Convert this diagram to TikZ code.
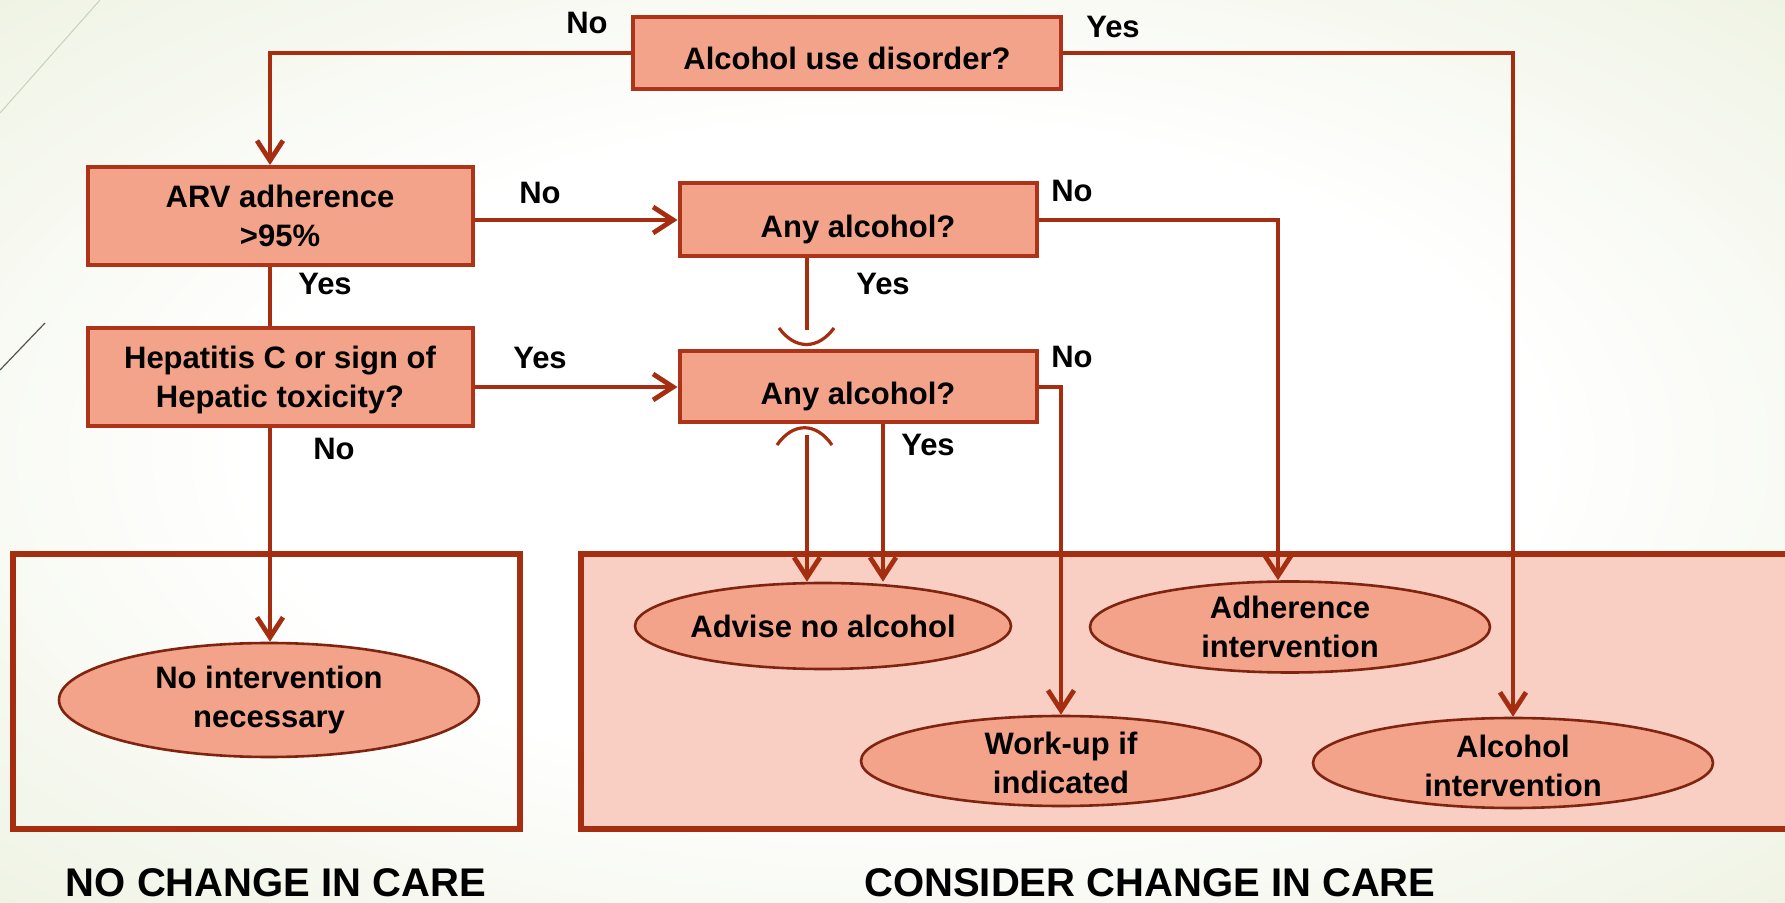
\documentclass[tikz,border=0pt]{standalone}
\usepackage{fontspec}
\setmainfont{Liberation Sans}
\usetikzlibrary{arrows.meta, shapes.geometric}
\definecolor{linered}{HTML}{A52D10}
\definecolor{boxfill}{HTML}{F4A38B}
\definecolor{boxedge}{HTML}{AD3418}
\definecolor{ovaledge}{HTML}{7F2410}
\definecolor{panelfill}{HTML}{F9CEC3}
\definecolor{bgedge}{HTML}{E2E9CD}
\definecolor{bglight}{HTML}{C9D0BB}
\definecolor{bgdark}{HTML}{55554A}
\pgfdeclareradialshading{slidebg}{\pgfpoint{0bp}{0bp}}{color(0bp)=(white); color(18bp)=(white); color(50bp)=(bgedge); color(72bp)=(bgedge)}
\tikzset{qbox/.style = {draw = boxedge, line width = 2pt, fill = boxfill, inner sep = 0, align = center, font = \bfseries\fontsize{15.5}{19.5}\selectfont},
  outcome/.style = {ellipse, draw = ovaledge, line width = 1.3pt, fill = boxfill, inner xsep = 0, inner ysep = -3pt, align = center, font = \bfseries\fontsize{15.5}{19.5}\selectfont},
  conn/.style = {draw = linered, line width = 2.4pt},
  hop/.style = {draw = linered, line width = 1.6pt},
  panel/.style = {draw = linered, line width = 2.8pt},
  lbl/.style = {font = \bfseries\fontsize{15.5}{19.5}\selectfont},
  title/.style = {font = \bfseries\fontsize{20}{24}\selectfont}}

\begin{document}
\begin{tikzpicture}[x = 0.5pt, y = -0.5pt, > = {Straight Barb[length = 10pt, width = 13pt]}]
    \useasboundingbox (0, 0) rectangle (1785, 903);
    \clip (0, 0) rectangle (1785, 903);
    \shade [shading = slidebg] (0, 0) rectangle (1785, 903);
    \draw [bglight, line width = 0.5pt] (0, 113) -- (100, 0);
    \draw [bgdark, line width = 0.6pt] (0, 370) -- (45, 323);

    \draw [panel] (13, 554) rectangle (520, 829);
    \draw [panel, fill = panelfill] (581, 554) rectangle (1800, 829);

    \node [qbox, minimum width = 214pt, minimum height = 36pt, text height = 17pt, text depth = 0pt] (audq) at (847, 53) {Alcohol use disorder?};
    \node [qbox, minimum width = 192.5pt, minimum height = 49pt] (arv) at (280, 216) {ARV adherence\\>95\%};
    \node [qbox, minimum width = 192.5pt, minimum height = 49pt, text depth = 0pt] (hep) at (280, 377) {Hepatitis C or sign of\\Hepatic toxicity?};
    \node [qbox, minimum width = 178.5pt, minimum height = 36.5pt, text height = 18pt, text depth = 0pt] (anyA) at (858, 220) {Any alcohol?};
    \node [qbox, minimum width = 178.5pt, minimum height = 35.5pt, text height = 18pt, text depth = 0pt] (anyB) at (858, 387) {Any alcohol?};

    \node [outcome, minimum width = 210pt, minimum height = 57pt] (noint) at (269, 700) {No intervention\\necessary};
    \node [outcome, minimum width = 188pt, minimum height = 43pt] (advise) at (823, 626) {Advise no alcohol};
    \node [outcome, minimum width = 200pt, minimum height = 45.5pt] (adher) at (1290, 627) {Adherence\\intervention};
    \node [outcome, minimum width = 200pt, minimum height = 45pt, text height = 32pt, text depth = 0pt] (workup) at (1061, 761) {Work-up if\\indicated};
    \node [outcome, minimum width = 200pt, minimum height = 45pt, text height = 33.6pt, text depth = 0pt] (alcint) at (1513, 763) {Alcohol\\intervention};

    \coordinate (hopin) at (807, 330);
    \coordinate (hopout) at (807, 435);

    \draw [conn, ->] (audq.west) -| ([xshift = -5pt] arv.north);
    \draw [conn, ->] (audq.east) -| (alcint.north);
    \draw [conn, ->] (arv.east |- anyA.west) -- (anyA.west);
    \draw [conn] ([xshift = -5pt] arv.south) -- ([xshift = -5pt] hep.north);
    \draw [conn, ->] (hep.east |- anyB.west) -- (anyB.west);
    \draw [conn, ->] ([xshift = -5pt] hep.south) -- ([xshift = -5pt] hep.south |- noint.north);
    \draw [conn, ->] (anyA.east) -| ([xshift = -6pt] adher.north);
    \draw [conn, ->] (anyB.east) -| (workup.north);
    \draw [conn, ->] ([xshift = 12.5pt] anyB.south) -- ([xshift = 12.5pt] anyB.south |- advise.north);
    \draw [conn] ([xshift = -25.5pt] anyA.south) -- (hopin);
    \draw [conn, ->] (hopout) -- (hopout |- advise.north);
    \draw [hop] (779, 328) .. controls (795, 350) and (818, 350) .. (834, 328);
    \draw [hop] (777, 445) .. controls (793, 422) and (816, 422) .. (832, 445);

    \node [lbl] (noA) at (587, 23) {No};
    \node [lbl] (yesA) at (1113, 27) {Yes};
    \node [lbl] (noB) at (540, 193) {No};
    \node [lbl] (yesB) at (325, 284) {Yes};
    \node [lbl] (yesC) at (540, 358) {Yes};
    \node [lbl] (noC) at (334, 449) {No};
    \node [lbl] (noD) at (1072, 191) {No};
    \node [lbl] (yesD) at (883, 284) {Yes};
    \node [lbl] (noE) at (1072, 357) {No};
    \node [lbl] (yesE) at (928, 445) {Yes};

    \node [title] (nochg) at (276, 883) {NO CHANGE IN CARE};
    \node [title] (conschg) at (1150, 883) {CONSIDER CHANGE IN CARE};
\end{tikzpicture}
\end{document}
